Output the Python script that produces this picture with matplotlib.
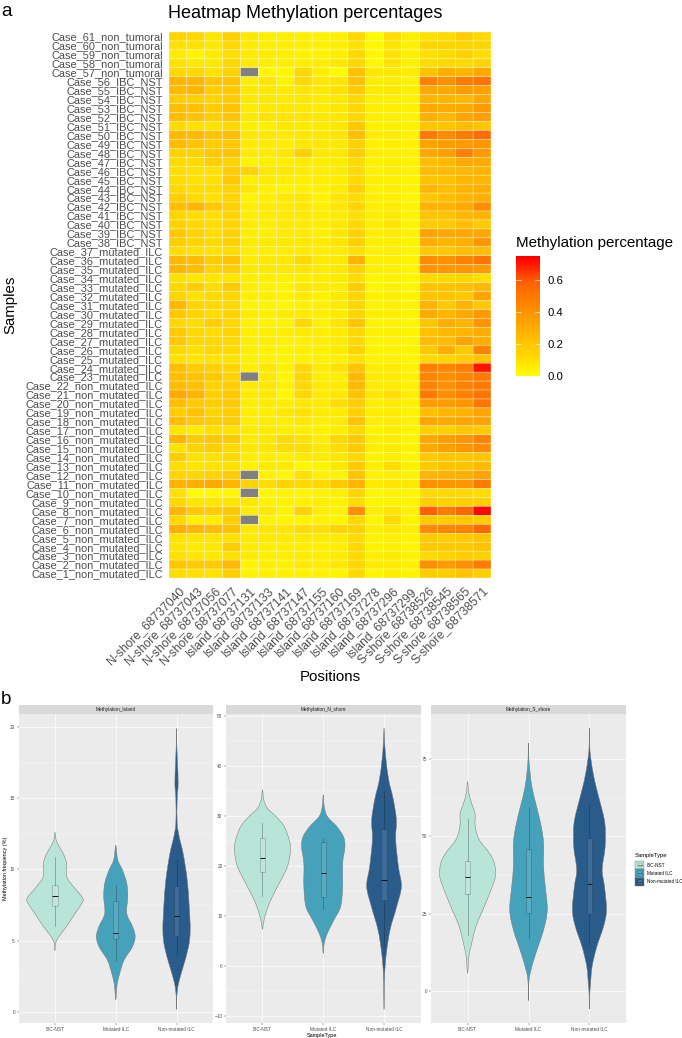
import numpy as np
import matplotlib
matplotlib.use("Agg")
import matplotlib.pyplot as plt
from matplotlib.colors import LinearSegmentedColormap, Normalize
from matplotlib.patches import PathPatch, Rectangle
from matplotlib.path import Path
from matplotlib.lines import Line2D

plt.rcParams['font.family'] = ['Liberation Sans', 'DejaVu Sans']
W, H = 682, 1038
nan = float('nan')

# ---------- heatmap data ----------
positions = ['N-shore_68737040', 'N-shore_68737043', 'N-shore_68737056', 'N-shore_68737077',
             'Island_68737131', 'Island_68737133', 'Island_68737141', 'Island_68737147',
             'Island_68737155', 'Island_68737160', 'Island_68737169', 'Island_68737278',
             'Island_68737296', 'Island_68737299', 'S-shore_68738526', 'S-shore_68738545',
             'S-shore_68738565', 'S-shore_68738571']
case_numbers = list(range(61, 0, -1))
case_groups = ['non_tumoral'] * 5 + ['IBC_NST'] * 19 + ['mutated_ILC'] * 15 + ['non_mutated_ILC'] * 22
heat_percent = [
    [15,14,9,17,8,6,6,6,5,6,14,2,12,6,11,13,18,14],
    [10,10,8,13,7,6,6,6,5,6,10,3,9,5,15,15,15,15],
    [7,4,7,12,7,7,6,5,5,6,14,3,10,6,11,13,17,12],
    [10,8,8,14,7,6,6,6,6,8,14,3,10,5,12,13,13,15],
    [14,14,10,16,nan,3,3,14,6,2,23,8,8,7,23,30,27,33],
    [27,27,21,22,6,9,4,14,8,9,23,6,7,5,48,42,50,52],
    [26,28,18,20,8,8,7,9,8,11,19,7,8,6,33,32,37,36],
    [18,17,16,19,8,8,7,8,7,8,14,6,6,5,28,28,26,33],
    [24,23,18,21,7,8,8,8,7,8,14,6,6,5,33,32,33,38],
    [25,23,18,21,8,10,9,9,8,8,14,6,6,5,30,27,34,36],
    [13,11,10,14,6,6,8,7,7,8,20,5,6,5,21,21,24,21],
    [26,26,22,24,8,8,7,8,8,9,24,6,7,5,50,44,50,55],
    [26,22,18,20,7,7,6,8,8,8,17,5,6,5,35,36,38,40],
    [16,16,20,22,7,7,9,17,8,8,18,6,6,5,33,36,47,38],
    [13,13,18,16,4,6,6,7,6,7,13,5,6,5,24,26,32,32],
    [12,11,11,18,16,8,8,7,6,7,13,5,6,5,24,26,26,28],
    [12,10,11,20,6,7,6,6,6,6,13,6,5,4,22,23,28,27],
    [14,12,12,15,8,5,4,5,5,7,17,5,6,4,27,24,28,30],
    [18,13,10,15,4,6,8,8,4,9,12,6,5,3,21,24,28,30],
    [24,27,20,17,6,7,7,8,6,9,15,6,7,4,29,29,33,43],
    [15,12,11,15,6,7,7,8,6,7,11,6,7,4,22,22,27,28],
    [16,14,12,15,7,6,7,7,6,8,14,6,9,4,19,20,24,19],
    [20,16,12,16,6,6,7,7,5,8,16,6,7,4,35,33,33,33],
    [18,16,13,17,7,8,8,8,7,9,17,6,6,4,31,28,31,40],
    [12,11,10,12,6,6,6,7,6,7,11,5,6,4,20,20,24,24],
    [26,25,18,22,7,8,8,13,8,8,28,6,6,4,44,42,47,52],
    [27,25,16,18,8,8,8,9,7,8,16,6,6,4,41,39,40,38],
    [11,8,9,9,6,6,5,6,6,7,12,3,5,3,13,13,15,11],
    [14,18,12,19,6,5,4,8,7,6,18,3,5,3,22,22,24,26],
    [15,10,13,15,6,6,5,7,5,8,15,5,6,4,22,22,20,35],
    [26,15,13,14,4,4,3,5,5,7,14,4,5,4,29,19,28,20],
    [20,16,12,16,7,6,7,7,6,7,15,6,6,4,32,28,33,38],
    [14,12,18,14,5,5,4,14,5,9,21,4,5,3,21,31,28,41],
    [19,13,12,15,6,6,6,7,6,7,14,5,5,4,23,26,27,31],
    [20,14,14,14,6,6,5,6,6,7,13,4,5,4,25,25,35,30],
    [14,11,14,13,6,5,4,6,5,7,15,4,5,4,20,31,20,47],
    [10,9,9,10,5,5,4,5,5,5,9,4,5,3,13,15,18,22],
    [24,19,17,16,6,8,5,14,7,10,22,6,7,5,49,46,50,72],
    [24,22,20,16,nan,8,3,15,6,6,26,7,7,5,46,43,46,50],
    [25,23,16,18,7,8,5,14,7,7,26,7,7,5,47,42,48,50],
    [32,28,17,20,7,8,3,14,7,8,22,8,12,6,51,43,48,53],
    [24,19,18,19,6,7,6,8,7,12,18,6,7,5,37,37,39,52],
    [18,22,15,18,6,6,8,10,7,7,17,6,7,5,24,27,29,35],
    [24,20,18,19,6,7,6,8,6,7,22,6,7,5,34,32,34,35],
    [9,7,11,10,7,7,6,6,5,6,13,4,6,4,17,17,21,20],
    [28,19,20,19,7,8,13,10,6,14,19,6,7,4,33,37,41,47],
    [10,16,18,13,9,9,12,12,8,12,19,6,7,5,33,36,40,44],
    [18,10,10,13,6,6,5,7,7,8,13,4,6,3,19,21,21,21],
    [12,9,10,10,5,7,7,3,4,8,19,6,12,5,19,22,23,26],
    [15,15,16,18,nan,5,3,11,5,4,22,5,6,4,28,29,31,35],
    [29,30,33,27,16,12,16,13,14,19,27,7,9,8,42,40,41,50],
    [11,1,2,2,nan,3,3,3,4,6,15,3,5,3,14,14,13,12],
    [14,9,9,9,8,5,5,5,6,5,12,4,5,4,18,16,17,17],
    [27,19,18,19,6,8,4,16,6,5,42,6,9,5,60,50,57,74],
    [14,5,6,17,nan,4,4,4,5,4,14,4,13,5,19,18,20,18],
    [30,27,25,23,8,9,9,12,11,15,16,6,8,6,44,46,48,56],
    [10,9,9,11,7,8,7,8,7,7,13,5,6,4,19,18,20,22],
    [9,7,8,18,7,6,6,6,5,6,14,4,5,3,20,19,20,22],
    [11,9,8,10,7,6,6,7,6,7,13,6,7,5,13,16,18,17],
    [21,19,19,26,4,6,5,7,6,8,14,7,7,5,43,38,42,50],
    [12,11,10,18,4,5,5,5,5,4,13,3,6,4,18,18,22,17],
]
colorbar_ticks = [0.0, 0.2, 0.4, 0.6]

# ---------- violin data: (y, half width) outlines and box statistics ----------
sample_types = ['IBC-NST', 'Mutated ILC', 'Non-mutated ILC']
island_y = [
    [12.6,11.96,11.1,10.4,9.5,8.8,8.0,7.6,6.9,6.0,5.3,4.8,4.3],
    [11.7,10.67,9.96,9.03,8.09,6.9,6.0,5.3,4.57,3.63,2.7,1.88,0.82],
    [19.9,18.75,17.5,16.06,14.9,13.25,12.3,11.1,9.26,7.4,5.74,4.57,3.17,2.0,1.05,0.16],
]
island_w = [
    [0,.027,.137,.192,.192,.302,.456,.44,.33,.192,.066,.011,0],
    [0,.033,.11,.181,.198,.181,.275,.319,.275,.137,.066,.022,0],
    [0,.005,.016,.027,.011,.011,.044,.11,.176,.209,.225,.198,.11,.033,.005,0],
]
island_box = [(6.0,7.4,8.1,8.9,10.9), (3.6,5.1,5.5,7.75,8.9), (4.0,5.3,6.7,8.85,10.7)]
nshore_y = [
    [35.2,33.2,31.5,29.9,27.9,25.2,23.2,19.9,16.5,13.2,10.5,8.5,7.3],
    [34.2,31.9,29.9,27.9,25.9,23.9,20.5,15.9,11.9,9.2,6.5,4.5,2.5],
    [47.5,44.5,41.2,37.2,33.2,29.2,25.2,19.9,15.9,11.9,7.2,2.5,-1.5,-5.5,-8.7],
]
nshore_w = [
    [0,.022,.082,.22,.357,.44,.462,.412,.275,.137,.055,.016,0],
    [0,.016,.066,.22,.33,.357,.319,.319,.286,.176,.066,.016,0],
    [0,.011,.033,.077,.154,.203,.192,.236,.286,.209,.099,.038,.011,.005,0],
]
nshore_box = [(14.0,18.7,21.5,25.6,28.5), (11.3,13.8,18.5,24.8,25.5), (3.9,13.2,17.1,27.3,34.9)]
sshore_y = [
    [67.7,64,60.7,57.5,53.2,48.9,44.6,41.3,37,32.7,27.3,20.8,14.3,11.1,5.7],
    [80.2,73.7,66.1,59.7,53.2,47.8,40.2,33.8,26.2,19.7,12.2,5.7,1.9,-3.2],
    [85,79.6,75.3,68.3,61.8,54.3,46.7,39.2,33.8,26.2,20.8,14.3,7.9,1.9,-1.3,-5.9],
]
sshore_w = [
    [0,.022,.066,.121,.126,.192,.357,.44,.456,.385,.275,.137,.055,.022,0],
    [0,.011,.055,.132,.209,.247,.247,.275,.308,.247,.121,.027,.005,0],
    [0,.005,.022,.082,.165,.253,.258,.209,.247,.28,.231,.121,.044,.016,.005,0],
]
sshore_box = [(18.0,31.5,36.7,42.0,55.5), (17.0,25.3,30.5,46.0,59.5), (15.0,24.8,34.5,49.5,60.0)]
panel_names = ['Methylation_Island', 'Methylation_N_shore', 'Methylation_S_shore']
violin_colors = ['#B9E4D8', '#46A2BB', '#2A5C8B']

fig = plt.figure(figsize=(W / 100, H / 100), dpi=100, facecolor='white')


def px_axes(left, top, right, bottom, **kw):
    return fig.add_axes([left / W, 1 - bottom / H, (right - left) / W, (bottom - top) / H], **kw)


def px_text(x, y, s, **kw):
    kw.setdefault('ha', 'left')
    kw.setdefault('va', 'center')
    return fig.text(x / W, 1 - y / H, s, **kw)


# ---------- panel a ----------
heat_cmap = LinearSegmentedColormap.from_list('yr', [
    (0.0, '#FFFF00'), (0.1 / 0.75, '#FFE200'), (0.2 / 0.75, '#FFC800'), (0.4 / 0.75, '#FF9600'),
    (0.6 / 0.75, '#FF6000'), (1.0, '#FF0000')], N=256)
heat_cmap.set_bad('#808080')
norm = Normalize(0, 0.75)

ax = px_axes(169, 32, 491, 578)
values = np.ma.masked_invalid(np.array(heat_percent, dtype=float) / 100)
mesh = ax.pcolormesh(np.arange(len(positions) + 1), np.arange(len(case_numbers) + 1), values,
                     cmap=heat_cmap, norm=norm, edgecolors=(1, 1, 1, 0.75), linewidth=0.3,
                     antialiased=True, snap=False)
ax.set_xlim(0, len(positions))
ax.set_ylim(len(case_numbers), 0)
for s in ax.spines.values():
    s.set_visible(False)
ax.set_yticks(np.arange(len(case_numbers)) + 0.5,
              [f'Case_{n}_{g}' for n, g in zip(case_numbers, case_groups)])
ax.set_xticks(np.arange(len(positions)) + 0.5, positions)
ax.tick_params(length=0)
ax.tick_params(axis='y', labelsize=7.9, labelcolor='#4D4D4D', pad=4.3)
ax.tick_params(axis='x', labelsize=8.7, labelcolor='#4D4D4D', pad=5)
for lab in ax.get_xticklabels():
    lab.set(rotation=45, ha='right', va='top', rotation_mode='anchor')

px_text(305, 14, 'Heatmap Methylation percentages', ha='center', fontsize=13, color='black')
px_text(330, 677, 'Positions', ha='center', fontsize=10.8, color='black')
px_text(10, 305, 'Samples', ha='center', rotation=90, fontsize=10.8, color='black')
px_text(1, 12, 'a', fontsize=13.5, color='black')
px_text(1, 700, 'b', fontsize=13.5, color='black')

cax = px_axes(516, 256, 539.5, 375.5)
cbar = fig.colorbar(mesh, cax=cax, ticks=colorbar_ticks)
cbar.outline.set_visible(False)
cbar.solids.set_edgecolor('face')
cax.tick_params(axis='y', which='major', direction='in', left=True, right=True, labelleft=False,
                labelright=True, length=3.4, width=0.5, color='white', labelsize=8.1, pad=6, labelcolor='black')
cax.set_yticklabels([f'{t:.1f}' for t in colorbar_ticks])
px_text(516, 243, 'Methylation percentage', fontsize=10.9, color='black')


# ---------- panel b ----------
def violin_path(center, y, w):
    y = np.asarray(y, float)
    w = np.asarray(w, float)
    xs = np.r_[center + w, (center - w)[-2:0:-1]]
    ys = np.r_[y, y[-2:0:-1]]
    pts = np.column_stack([xs, ys])
    n = len(pts)
    verts = [pts[0]]
    codes = [Path.MOVETO]
    for i in range(n):
        p0, p1, p2, p3 = pts[(i - 1) % n], pts[i], pts[(i + 1) % n], pts[(i + 2) % n]
        verts += [p1 + (p2 - p0) / 6, p2 - (p3 - p1) / 6, p2]
        codes += [Path.CURVE4] * 3
    return Path(np.array(verts), codes)


panels = [
    (18.5, 213, island_y, island_w, island_box, (-0.79, 20.9), [0, 5, 10, 15, 20]),
    (226, 420.5, nshore_y, nshore_w, nshore_box, (-11.4, 50.3), [-10, 0, 10, 20, 30, 40, 50]),
    (431, 626, sshore_y, sshore_w, sshore_box, (-10.4, 89.5), [0, 25, 50, 75]),
]
PT, PB, ST = 714.3, 1023, 705
for name, (l, r, ys, ws, boxes, ylim, yt) in zip(panel_names, panels):
    a = px_axes(l, PT, r, PB, facecolor='#EBEBEB')
    a.set_axisbelow(True)
    a.set_xlim(0.4, 3.6)
    a.set_ylim(*ylim)
    for s in a.spines.values():
        s.set_visible(False)
    a.set_xticks([1, 2, 3], sample_types)
    a.set_yticks(yt)
    a.set_yticks([(p + q) / 2 for p, q in zip(yt[:-1], yt[1:])] +
                 [yt[-1] + (yt[1] - yt[0]) / 2] * (yt[-1] + (yt[1] - yt[0]) / 2 < ylim[1]) +
                 [yt[0] - (yt[1] - yt[0]) / 2] * (yt[0] - (yt[1] - yt[0]) / 2 > ylim[0]), minor=True)
    a.grid(True, which='major', color='white', linewidth=0.5)
    a.grid(True, which='minor', axis='y', color='white', linewidth=0.25)
    a.tick_params(axis='both', which='major', labelsize=3.4, labelcolor='#4D4D4D', color='#333333',
                  length=1.1, width=0.3, pad=1.5)
    a.tick_params(axis='both', which='minor', length=0)
    for i, (vy, vw, c) in enumerate(zip(ys, ws, violin_colors)):
        a.add_patch(PathPatch(violin_path(i + 1, vy, vw), facecolor=c, edgecolor='#777777', linewidth=0.35, zorder=3))
    stats = [dict(whislo=b[0], q1=b[1], med=b[2], q3=b[3], whishi=b[4], fliers=[]) for b in boxes]
    a.bxp(stats, positions=[1, 2, 3], widths=0.09, showcaps=False, showfliers=False, patch_artist=True,
          manage_ticks=False, zorder=4,
          boxprops=dict(facecolor=(1, 1, 1, 0.1), edgecolor=(0.1, 0.1, 0.1, 0.35), linewidth=0.4),
          whiskerprops=dict(color=(0.1, 0.1, 0.1, 0.35), linewidth=0.6),
          medianprops=dict(color='#111111', linewidth=0.7))
    a.set_xlim(0.4, 3.6)
    strip = px_axes(l, ST, r, PT, facecolor='#D9D9D9')
    strip.set_xticks([])
    strip.set_yticks([])
    for s in strip.spines.values():
        s.set_visible(False)
    strip.text(0.5, 0.5, name, transform=strip.transAxes, ha='center', va='center', fontsize=3.4, color='#1A1A1A')

px_text(6, 868.7, 'Methylation frequency (%)', ha='center', rotation=90, fontsize=3.9, color='black')
px_text(322, 1035, 'SampleType', ha='center', fontsize=4, color='black')

# legend
px_text(635, 855.7, 'SampleType', fontsize=4.2, color='black')
key_h = 8.3
for i, (lab, c) in enumerate(zip(sample_types, violin_colors)):
    top = 861 + i * key_h
    fig.add_artist(Rectangle((635.3 / W, 1 - (top + key_h) / H), 8.4 / W, key_h / H, transform=fig.transFigure,
                             facecolor=c, edgecolor='#777777', linewidth=0.3))
    fig.add_artist(Rectangle((637.5 / W, 1 - (top + 6.3) / H), 4 / W, 4.3 / H, transform=fig.transFigure,
                             facecolor=(1, 1, 1, 0.15), edgecolor=(0, 0, 0, 0.35), linewidth=0.3))
    fig.add_artist(Line2D([637.5 / W, 641.5 / W], [1 - (top + key_h / 2) / H] * 2, transform=fig.transFigure,
                          color='#333333', linewidth=0.4))
    px_text(647, top + key_h / 2, lab, fontsize=3.3, color='black')

fig.savefig('out.png', dpi=100)
